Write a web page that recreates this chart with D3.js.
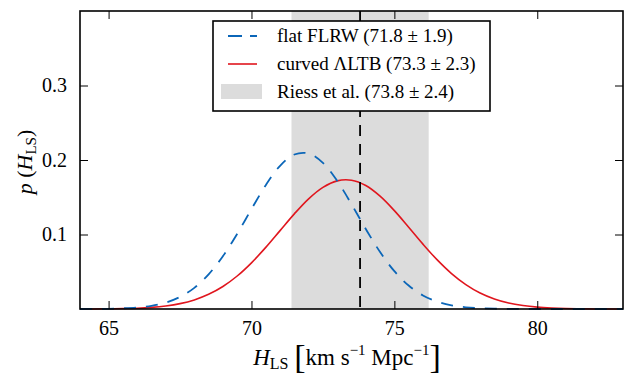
<!DOCTYPE html>
<html><head><meta charset="utf-8">
<script src="https://cdn.jsdelivr.net/npm/d3@7"></script>
<style>
body{margin:0;background:#fff;}
svg text{font-family:"Liberation Serif","DejaVu Serif",serif !important;fill:#000;}
</style></head>
<body><svg id="c" width="625" height="376"></svg>
<script>
const hValues = [64,64.5,65,65.5,66,66.5,67,67.5,68,68.5,69,69.5,70,70.5,71,71.5,72,72.5,73,73.5,74,74.5,75,75.5,76,76.5,77,77.5,78,78.5,79,79.5,80,80.5,81,81.5,82,82.5,83];
const flatFLRW = [0.0000,0.0001,0.0003,0.0009,0.0020,0.0043,0.0086,0.0162,0.0284,0.0465,0.0709,0.1009,0.1341,0.1662,0.1922,0.2074,0.2088,0.1962,0.1720,0.1407,0.1074,0.0765,0.0508,0.0315,0.0182,0.0098,0.0050,0.0023,0.0010,0.0004,0.0002,0.0001,0,0,0,0,0,0,0];
const curvedLTB = [0.0000,0.0001,0.0003,0.0006,0.0011,0.0022,0.0041,0.0072,0.0122,0.0197,0.0302,0.0443,0.0620,0.0827,0.1052,0.1277,0.1479,0.1633,0.1720,0.1728,0.1657,0.1514,0.1320,0.1098,0.0871,0.0659,0.0476,0.0328,0.0215,0.0135,0.0080,0.0046,0.0025,0.0013,0.0006,0.0003,0.0001,0,0];
const riessCenter = 73.8, riessErr = 2.4;
const xTicks = [65,70,75,80];
const yTicks = [0.1,0.2,0.3];
const legendLabels = ["flat FLRW (71.8 \u00b1 1.9)","curved \u039bLTB (73.3 \u00b1 2.3)","Riess et al. (73.8 \u00b1 2.4)"];

const svg = d3.select("#c");
const L=80,R=623,T=11,B=309;
const x = d3.scaleLinear().domain([64,83]).range([L,R]);
const y = d3.scaleLinear().domain([0,0.4]).range([B,T]);

svg.append("rect").attr("x",x(riessCenter-riessErr)).attr("y",T)
  .attr("width",x(riessCenter+riessErr)-x(riessCenter-riessErr)).attr("height",B-T)
  .attr("fill","#dcdcdc");

const line = d3.line().x((d,i)=>x(hValues[i])).y(d=>y(d)).curve(d3.curveCatmullRom);
svg.append("path").datum(curvedLTB).attr("d",line).attr("fill","none")
  .attr("stroke","#e0161e").attr("stroke-width",1.6);
svg.append("path").datum(flatFLRW).attr("d",line).attr("fill","none")
  .attr("stroke","#0b66b8").attr("stroke-width",1.8).attr("stroke-dasharray","12,10");

svg.append("line").attr("x1",x(riessCenter)).attr("x2",x(riessCenter)).attr("y1",T).attr("y2",B)
  .attr("stroke","#000").attr("stroke-width",1.8).attr("stroke-dasharray","11,8");

const tickLen=8;
const axB = d3.axisBottom(x).tickValues(xTicks).tickSize(-tickLen).tickPadding(tickLen+4).tickFormat(d3.format("d"));
const axT = d3.axisTop(x).tickValues(xTicks).tickSize(-tickLen).tickFormat("");
const axL = d3.axisLeft(y).tickValues(yTicks).tickSize(-tickLen).tickPadding(tickLen+5).tickFormat(d3.format(".1f"));
const axR = d3.axisRight(y).tickValues(yTicks).tickSize(-tickLen).tickFormat("");
function style(g){g.attr("font-family",null).attr("font-size",null);
  g.select(".domain").remove();g.selectAll("line").attr("stroke","#000").attr("stroke-width",1);
  g.selectAll("text").attr("font-size",20).attr("fill","#000");}
svg.append("g").attr("transform",`translate(0,${B})`).call(axB).call(style);
svg.append("g").attr("transform",`translate(0,${T})`).call(axT).call(style);
svg.append("g").attr("transform",`translate(${L},0)`).call(axL).call(style);
svg.append("g").attr("transform",`translate(${R},0)`).call(axR).call(style);

svg.append("rect").attr("x",L).attr("y",T).attr("width",R-L).attr("height",B-T)
  .attr("fill","none").attr("stroke","#000").attr("stroke-width",1.6);

const lg = svg.append("g");
lg.append("rect").attr("x",213).attr("y",21).attr("width",277).attr("height",90)
  .attr("fill","#fff").attr("stroke","#000").attr("stroke-width",1.6);
lg.append("line").attr("x1",228).attr("x2",257).attr("y1",36).attr("y2",36)
  .attr("stroke","#0b66b8").attr("stroke-width",1.8).attr("stroke-dasharray","14,8");
lg.append("line").attr("x1",228).attr("x2",257).attr("y1",64).attr("y2",64)
  .attr("stroke","#e0161e").attr("stroke-width",1.6);
lg.append("rect").attr("x",221).attr("y",84).attr("width",41).attr("height",15).attr("fill","#dcdcdc");
legendLabels.forEach((t,i)=>{
  lg.append("text").attr("x",277).attr("y",36+28*i+6).attr("font-size",19).text(t);
});

const xl = svg.append("text").attr("x",347).attr("y",365).attr("text-anchor","middle").attr("font-size",23);
xl.append("tspan").attr("font-style","italic").text("H");
xl.append("tspan").attr("font-size",16).attr("dy",4).text("LS");
xl.append("tspan").attr("dy",-4).text(" ");
xl.append("tspan").attr("font-size",34).attr("dy",3).attr("font-weight","300").text("[");
xl.append("tspan").attr("dy",-3).text("km s");
xl.append("tspan").attr("font-size",15).attr("dy",-10).text("\u22121");
xl.append("tspan").attr("dy",10).text(" Mpc");
xl.append("tspan").attr("font-size",15).attr("dy",-10).text("\u22121");
xl.append("tspan").attr("font-size",34).attr("dy",13).text("]");

const yl = svg.append("text").attr("transform","translate(32,162) rotate(-90)").attr("text-anchor","middle").attr("font-size",22);
yl.append("tspan").attr("font-style","italic").text("p");
yl.append("tspan").text(" (");
yl.append("tspan").attr("font-style","italic").text("H");
yl.append("tspan").attr("font-size",15).attr("dy",4).text("LS");
yl.append("tspan").attr("dy",-4).text(")");
</script></body></html>
